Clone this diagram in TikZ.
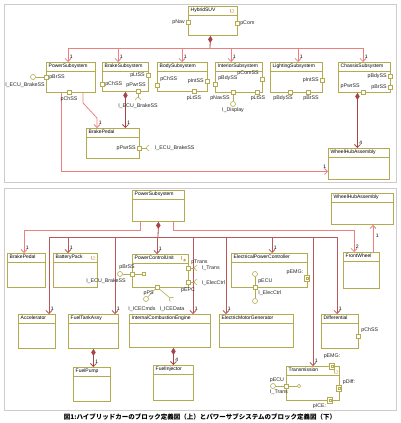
\documentclass[tikz,border=0pt]{standalone}
\usepackage{fontspec}
\setmainfont{Liberation Sans}
\newfontfamily\cjk{Noto Sans CJK JP}
\usetikzlibrary{calc, arrows.meta, positioning}
\definecolor{blkcol}{RGB}{180,170,80}
\definecolor{asccol}{RGB}{236,128,128}
\definecolor{cmpcol}{RGB}{165,68,68}
\definecolor{buscol}{RGB}{185,88,88}
\definecolor{icocol}{RGB}{190,140,50}
\tikzstyle{frm} = [draw=gray!40, line width=0.8pt]
\tikzstyle{blk} = [draw=blkcol, fill=white, line width=0.9pt, inner sep=0pt, anchor=north west]
\tikzstyle{hdr} = [draw=blkcol, line width=0.7pt]
\tikzstyle{ttl} = [font=\fontsize{5}{6}\selectfont, inner sep=0pt, anchor=north west]
\tikzstyle{lbl} = [font=\fontsize{5.3}{6}\selectfont, inner sep=0.8pt, text=black!85]
\tikzstyle{port} = [rectangle, draw=blkcol, fill=white, line width=0.6pt, minimum size=4pt, inner sep=0pt]
\tikzstyle{sport} = [port, minimum size=3pt]
\tikzstyle{iport} = [port, minimum width=5pt, minimum height=6pt, path picture={\draw[blkcol, line width=0.3pt] ($(path picture bounding box.center)+(-1.2,-1.2)$) rectangle ($(path picture bounding box.center)+(1.2,1.2)$);}]
\tikzstyle{ball} = [circle, draw=blkcol, fill=white, line width=0.6pt, minimum size=5pt, inner sep=0pt]
\tikzstyle{lnk} = [draw=blkcol, line width=0.6pt]
\tikzstyle{assoc} = [draw=asccol, line width=0.8pt, -{Straight Barb[length=3pt,width=6pt]}]
\tikzstyle{bus} = [draw=buscol, line width=0.8pt, -{Straight Barb[length=3pt,width=6pt]}]
\tikzstyle{dia} = [draw=cmpcol, line width=0.8pt, {Diamond[length=7pt,width=4.5pt]}-]
\tikzstyle{comp} = [draw=cmpcol, line width=0.8pt, {Diamond[length=7pt,width=4.5pt]}-{Straight Barb[length=3pt,width=6pt]}]
\tikzstyle{mult} = [font=\fontsize{5}{6}\selectfont, inner sep=0pt, anchor=south west, xshift=1.5pt, yshift=3pt]

\begin{document}
\begin{tikzpicture}[x=1pt, y=-1pt]
 \useasboundingbox (0,0) rectangle (400,423);
 \draw[frm] (4,4) rectangle (396,182);
 \draw[frm] (4,188) rectangle (396,410);

 % blocks
 \foreach \bn/\bx/\by/\bw/\bh/\bt in {
   suv/188/6/49/29/HybridSUV, pwr/46/62/49/30/PowerSubsystem,
   brk/102/62/46/29/BrakeSubsystem, bdy/157/62/50/29/BodySubsystem,
   intr/215/62/47/30/InteriorSubsystem, lgt/270/62/52/30/LightingSubsystem,
   chs/338/62/52/30/ChassisSubsystem, bp/86/128/53/30/BrakePedal,
   whl/328/148/61/31/WheelHubAssembly,
   pwr2/132/190/52/31/PowerSubsystem, whl2/331/193/62/31/WheelHubAssembly,
   bp2/7/253/38/34/BrakePedal, bat/53/253/44/34/BatteryPack,
   pcu/132/254/56/33/PowerControlUnit, epc/231/253/76/34/ElectricalPowerController,
   fw/343/252/36/36/FrontWheel, acc/18/314/37/34/Accelerator,
   fta/68/314/50/34/FuelTankAssy, ice/129/314/81/33/InternalCombustionEngine,
   emg/219/314/74/33/ElectricMotorGenerator, dif/321/314/37/34/Differential,
   fp/73/367/37/34/FuelPump, fi/153/365/40/35/FuelInjector,
   trn/286/366/53/34/Transmission}
 {
   \node[blk, minimum width=\bw pt, minimum height=\bh pt] (\bn) at (\bx,\by) {};
   \node[ttl] (\bn-t) at ([xshift=2.5pt, yshift=-2pt]\bn.north west) {\bt};
   \draw[hdr] ([yshift=-9.5pt]\bn.north west) -- ([yshift=-9.5pt]\bn.north east);
 }
 % small icons
 \foreach \ix/\iy in {232/11, 93/258, 336/372}
   \draw[icocol, line width=0.5pt] (\ix-1.5,\iy-2) -- (\ix-1.5,\iy+1) -- (\ix+2,\iy+1) (\ix+0.5,\iy-1.5) -- (\ix+2,\iy-0.5);
 \draw[icocol, line width=0.5pt] (181.5,256) -- (181.5,260) (184.5,260) circle (0.9);

 % top: composition of HybridSUV
 \coordinate (hub) at (210,48);
 \draw[dia] ([xshift=-2.5pt]suv.south) -- (hub);
 \foreach \tg/\dx in {pwr/22, brk/16, bdy/25, intr/16, lgt/28, chs/25}
   \draw[assoc] (hub) -| ([xshift=\dx pt]\tg.north west) node[mult] {1};
 \draw[assoc] ([xshift=37pt]pwr.south west) -- ++(0,10) -- ([xshift=11pt,yshift=10pt]bp.north west) -- ([xshift=11pt]bp.north west) node[mult] {1};
 \draw[comp] (brk.south) -- (brk.south |- bp.north) node[mult] {1};
 \draw[assoc] ([xshift=15pt]pwr.south west) |- ([yshift=-7.5pt]whl.west) node[mult, anchor=south east, xshift=-3pt] {1};
 \coordinate (chsb) at ([xshift=-7pt]chs.south);
 \draw[comp] (chsb) -- (chsb |- whl.north) node[mult] {4};

 % top: ports
 \node[port, label={[lbl]left:pNav}] (suvNav) at (188,22) {};
 \node[port, label={[lbl]right:pCom}] (suvCom) at (237,23) {};
 \node[ball, label={[lbl, xshift=-8pt, label distance=2pt]below:I\_ECU\_BrakeSS}] (pwrBrI) at (33,77) {};
 \draw[lnk] (pwrBrI) -- (46,77);
 \node[port, label={[lbl]right:pBrSS}] (pwrBr) at (46,77) {};
 \node[port, label={[lbl, label distance=1pt]below:pChSS}] (pwrCh) at (69,92) {};
 \node[port, label={[lbl]left:pLtSS}] (brkLt) at (148,75) {};
 \node[port, label={[lbl]right:pChSS}] (brkCh) at (102,84) {};
 \node[port, label={[lbl, xshift=-2pt]above:pPwrSS}] (brkPwr) at (138,91) {};
 \draw[lnk] (brkPwr.south) -- (138,97.5);
 \draw[lnk] (135.5,100) arc[start angle=180, end angle=360, radius=2.5];
 \node[lbl] (brkPwrI) at (138,106) {I\_ECU\_BrakeSS};
 \node[port, label={[lbl]above right:pChSS}] (bdyCh) at (157,85) {};
 \node[port, label={[lbl]left:pIntSS}] (bdyInt) at (207,81) {};
 \node[port, label={[lbl, label distance=1pt]below:pLtSS}] (bdyLt) at (194,91) {};
 \node[port, label={[lbl]above right:pBdySS}] (intrBdy) at (215,84) {};
 \node[port, label={[lbl]above left:pComSS}] (intrCom) at (262,79) {};
 \node[ball, label={[lbl]below:I\_Display}] (intrNavI) at (233,104) {};
 \draw[lnk] (233,92) -- (intrNavI);
 \node[port, label={[lbl]below left:pNavSS}] (intrNav) at (233,92) {};
 \node[port, label={[lbl, xshift=1pt]below:pLtSS}] (intrLt) at (257,92) {};
 \node[port, label={[lbl]left:pIntSS}] (lgtInt) at (322,80) {};
 \node[port, label={[lbl, xshift=-7pt]below:pBdySS}] (lgtBdy) at (290,92) {};
 \node[port, label={[lbl, xshift=3pt]below:pBrSS}] (lgtBr) at (308,92) {};
 \node[port, label={[lbl]left:pBdySS}] (chsBdy) at (390,76) {};
 \node[port, label={[lbl]left:pBrSS}] (chsBr) at (390,87) {};
 \node[port, label={[lbl]above left:pPwrSS}] (chsPwr) at (363,92) {};
 \node[port, label={[lbl]left:pPwrSS}] (bpPwr) at (139,148) {};
 \draw[lnk] (bpPwr.east) -- (146.5,148);
 \draw[lnk] (149,150.5) arc[start angle=90, end angle=270, radius=2.5];
 \node[lbl, anchor=west] (bpPwrI) at (154,148) {I\_ECU\_BrakeSS};

 % bottom: composition of PowerSubsystem
 \coordinate (hub2) at (158,237);
 \draw[dia] (pwr2.south) -- (hub2);
 \foreach \tg/\dx in {acc/31, bat/15, fta/47, pcu/25, ice/64, emg/7, epc/41, trn/27, dif/16}
   \draw[bus] (hub2) -| ([xshift=\dx pt]\tg.north west) node[mult] {1};
 \draw[assoc] ([xshift=8pt]pwr2.south west) -- ++(0,8) -| ([xshift=17pt]bp2.north west) node[mult] {1};
 \draw[assoc] ([xshift=41pt]pwr2.south west) -- ++(0,8) -| ([xshift=11pt]fw.north west) node[mult] {2};
 \coordinate (fwt) at ([xshift=30pt]fw.north west);
 \draw[assoc] (fwt) -- (fwt |- whl2.south) node[mult, midway, anchor=west, xshift=1pt] {1};
 \draw[comp] (fta.south) -- (fta.south |- fp.north) node[mult] {1};
 \coordinate (iceb) at ([xshift=3.5pt]ice.south);
 \draw[comp] (iceb) -- (iceb |- fi.north) node[mult] {4};

 % bottom: ports
 \node[ball, label={[lbl, xshift=-14pt, label distance=1pt]below:I\_ECU\_BrakeSS}] (pcuBrI) at (120,274) {};
 \node[sport] (pcuBrIn) at (144,274) {};
 \draw[lnk] (pcuBrI) -- (pcuBrIn);
 \node[port, label={[lbl, xshift=-5pt, label distance=1pt]above:pBrSS}] (pcuBr) at (132,274) {};
 \node[port, label={[lbl]above right:pTrans}] (pcuTr) at (188,268) {};
 \draw[lnk] (pcuTr.east) -- (194.5,268);
 \draw[lnk] (197,270.5) arc[start angle=90, end angle=270, radius=2.5];
 \node[lbl, anchor=west] (pcuTrI) at (201,268) {I\_Trans};
 \node[port, label={[lbl, label distance=2pt]below:pEPC}] (pcuEpc) at (188,282) {};
 \draw[lnk] (pcuEpc.east) -- (194.5,282);
 \draw[lnk] (197,284.5) arc[start angle=90, end angle=270, radius=2.5];
 \node[lbl, anchor=west] (pcuEpcI) at (201,283) {I\_ElecCtrl};
 \node[ball] (pcuPsI) at (146,299) {};
 \coordinate (psk) at (170,298);
 \draw[lnk] (157,287) -- (pcuPsI) (157,287) -- (psk);
 \draw[lnk] ($(psk)+(40:2.5)+(130:2.5)$) arc[start angle=130, end angle=310, radius=2.5];
 \node[port, label={[lbl]below left:pPS}] (pcuPs) at (157,287) {};
 \node[lbl] (pcuPsIl) at (142,309) {I\_ICECmds};
 \node[lbl] (pcuPsRl) at (172,309) {I\_ICEData};
 \node[iport, label={[lbl]above left:pEMG:}] (epcEmg) at (307,278) {};
 \node[ball] (epcEcuIn) at (255,274) {};
 \node[ball] (epcEcuI) at (255,301) {};
 \draw[lnk] (epcEcuIn) -- (epcEcuI);
 \node[port, label={[lbl]above right:pECU}, label={[lbl]below right:I\_ElecCtrl}] (epcEcu) at (255,287) {};
 \node[port, label={[lbl]above right:pChSS}] (difCh) at (358,336) {};
 \node[iport, label={[lbl, label distance=3pt]above:pEMG:}] (trnEmg) at (332,366) {};
 \node[iport, label={[lbl]above right:pDiff:}] (trnDif) at (339,388) {};
 \node[iport, label={[lbl]below left:pICE:}] (trnIce) at (330,400) {};
 \node[ball, label={[lbl, xshift=4pt]above:pECU}, label={[lbl, xshift=6pt]below:I\_Trans}] (trnEcuI) at (273,386) {};
 \node[ball, minimum size=3.5pt] (trnEcuIn) at (299,386) {};
 \draw[lnk] (trnEcuI) -- (trnEcuIn);
 \node[port] (trnEcu) at (286,386) {};

 \node[font=\cjk\bfseries\fontsize{6.5}{7}\selectfont, inner sep=0pt] (cap) at (200,417) {図1:ハイブリッドカーのブロック定義図（上）とパワーサブシステムのブロック定義図（下）};
\end{tikzpicture}
\end{document}
